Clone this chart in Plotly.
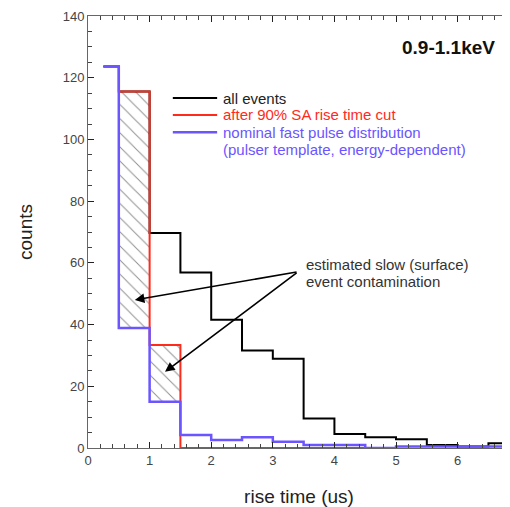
import plotly.graph_objects as go

# bin edges (us) and counts per bin
bin_edges = [0.25, 0.5, 1.0, 1.5, 2.0, 2.5, 3.0, 3.5, 4.0, 4.5, 5.0, 5.5, 6.0, 6.5, 7.0]
all_events = [123.6, 115.5, 69.7, 56.9, 41.6, 31.6, 28.9, 9.6, 4.5, 3.5, 2.8, 1.0, 0.5, 1.5]
cut_edges = [0.5, 1.0, 1.5, 2.0, 2.5, 3.0, 3.5, 4.0, 4.5]
after_cut = [115.5, 33.4, 0.0, 0.0, 0.0, 0.0, 0.0, 0.0]
fast_pulse = [123.6, 38.9, 15.0, 4.2, 2.6, 3.5, 2.0, 1.0, 1.0, 0.0, 0.5, 0.5, 0.5, 0.5]

x_ticks = [0, 1, 2, 3, 4, 5, 6]
y_ticks = [0, 20, 40, 60, 80, 100, 120, 140]

series_names = ["all events", "after 90% SA rise time cut", "nominal fast pulse distribution"]
extra_legend_line = "(pulser template, energy-dependent)"
series_colors = ["black", "#ff2a1a", "#6a55ff"]

# contamination bins: difference between red and blue
contam_centers = [0.75, 1.25]


def step_xy(edges, vals):
    return list(edges), list(vals) + [vals[-1]]


fig = go.Figure()

# hatched contamination region
blue_at = {round((bin_edges[i] + bin_edges[i + 1]) / 2, 3): fast_pulse[i] for i in range(len(fast_pulse))}
red_at = {round((cut_edges[i] + cut_edges[i + 1]) / 2, 3): after_cut[i] for i in range(len(after_cut))}
bases = [blue_at[c] for c in contam_centers]
heights = [red_at[c] - blue_at[c] for c in contam_centers]
fig.add_trace(go.Bar(
    x=contam_centers, y=heights, base=bases, width=0.5,
    marker=dict(color="rgba(255,255,255,0)", line=dict(width=0),
                pattern=dict(shape="\\", fgcolor="#222222", bgcolor="rgba(255,255,255,0)",
                             size=10, solidity=0.1)),
    showlegend=False, hoverinfo="skip"))

bx, by = step_xy(bin_edges, all_events)
fig.add_trace(go.Scatter(x=bx, y=by, mode="lines", line=dict(color=series_colors[0], width=2, shape="hv"),
                         name=series_names[0], showlegend=False))
rx, ry = step_xy(cut_edges, after_cut)
fig.add_trace(go.Scatter(x=rx, y=ry, mode="lines", line=dict(color=series_colors[1], width=2, shape="hv"),
                         name=series_names[1], showlegend=False))
fx, fy = step_xy(bin_edges, fast_pulse)
fig.add_trace(go.Scatter(x=fx, y=fy, mode="lines", line=dict(color=series_colors[2], width=2.5, shape="hv"),
                         name=series_names[2], showlegend=False))

font_family = "Liberation Sans, Arial, Helvetica, sans-serif"

# legend drawn as line samples + text
leg_x0, leg_x1, leg_tx = 0.201, 0.306, 0.318
leg_rows = [0.810, 0.771, 0.731, 0.692]
legend_texts = series_names + [extra_legend_line]
legend_colors = series_colors + [series_colors[2]]
for i, (txt, col, yy) in enumerate(zip(legend_texts, legend_colors, leg_rows)):
    if i < 3:
        fig.add_shape(type="line", xref="paper", yref="paper", x0=leg_x0, x1=leg_x1, y0=yy, y1=yy,
                      line=dict(color=col, width=2.5 if i == 2 else 2))
    fig.add_annotation(x=leg_tx, y=yy, xref="paper", yref="paper", xanchor="left", yanchor="middle",
                       text=txt, showarrow=False, borderpad=0,
                       font=dict(size=15, color=("#222222" if col == "black" else col), family=font_family))

# arrows
arrow_tail = (3.41, 57.1)
arrow_heads = [(0.76, 48.0), (1.25, 24.7)]
for hx, hy in arrow_heads:
    fig.add_annotation(x=hx, y=hy, ax=arrow_tail[0], ay=arrow_tail[1], xref="x", yref="y",
                       axref="x", ayref="y", text="", showarrow=True, arrowhead=2,
                       arrowsize=1.2, arrowwidth=1.6, arrowcolor="black")
for txt, yy in [("estimated slow (surface)", 59.6), ("event contamination", 54.1)]:
    fig.add_annotation(x=3.52, y=yy, xref="x", yref="y", xanchor="left", yanchor="middle",
                       text=txt, showarrow=False, borderpad=0,
                       font=dict(size=15, color="#333333", family=font_family))

fig.add_annotation(x=0.969, y=0.928, xref="paper", yref="paper", xanchor="right", yanchor="middle",
                   text="<b>0.9-1.1keV</b>", showarrow=False,
                   font=dict(size=19, color="#111111", family=font_family))

axis_common = dict(
    showline=True, linecolor="#666666", linewidth=1, mirror="allticks",
    ticks="inside", ticklen=6, tickwidth=1, tickcolor="#222222",
    showgrid=False, zeroline=False,
    tickfont=dict(size=13, color="#444444", family=font_family),
)

fig.update_xaxes(range=[0, 6.85], tickvals=x_ticks,
                 minor=dict(ticks="inside", dtick=0.2, tick0=0, ticklen=4, tickcolor="#444444", showgrid=False),
                 title=dict(text="rise time (us)", standoff=27,
                            font=dict(size=19, color="#222222", family=font_family)),
                 **axis_common)
fig.update_yaxes(range=[0, 140], tickvals=y_ticks,
                 minor=dict(ticks="inside", dtick=5, tick0=0, ticklen=4, tickcolor="#444444", showgrid=False),
                 title=dict(text="counts", standoff=25,
                            font=dict(size=19, color="#222222", family=font_family)),
                 **axis_common)

# page body adds an 8px offset; figure sized so the plot area lands where the reference has it
fig.update_layout(
    width=502, height=499,
    margin=dict(l=80, r=0, t=8, b=59, autoexpand=False),
    paper_bgcolor="white", plot_bgcolor="white",
    font=dict(family=font_family),
    showlegend=False,
    bargap=0,
)

fig.write_html("out.html")
